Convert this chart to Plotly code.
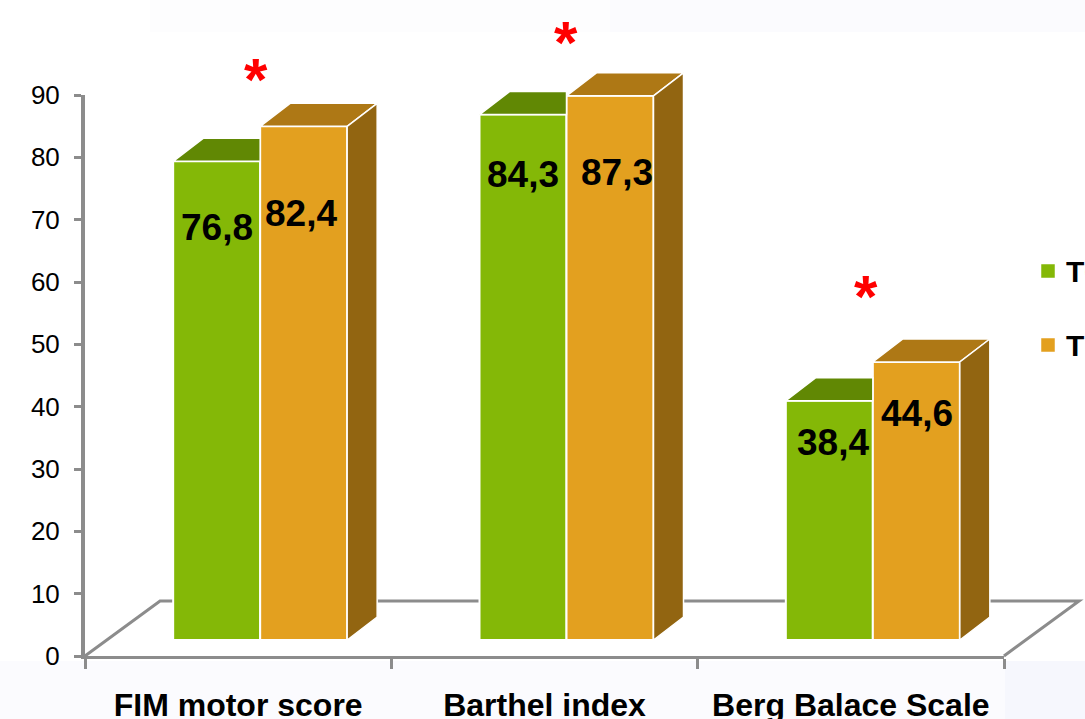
import plotly.graph_objects as go

categories = ["FIM motor score", "Barthel index", "Berg Balace Scale"]
t0_values = [76.8, 84.3, 38.4]
t1_values = [82.4, 87.3, 44.6]
t0_labels = ["76,8", "84,3", "38,4"]
t1_labels = ["82,4", "87,3", "44,6"]
y_ticks = list(range(0, 100, 10))

W, H = 1085, 719
L, R, T, B = 85, 1004, 95, 656
PX_PER_CAT = (R - L) / 3
PX_PER_UNIT = (B - T) / 90


def X(px):
    return (px - L) / PX_PER_CAT - 0.5


def Y(py):
    return (B - py) / PX_PER_UNIT


BASE = 16 / PX_PER_UNIT
DX = 30 / PX_PER_CAT
DY = 23 / PX_PER_UNIT
BAR_W = 87 / PX_PER_CAT
OFF0 = -65 / PX_PER_CAT
OFF1 = OFF0 + BAR_W

GREEN, GREEN_TOP = "#84b807", "#618804"
ORANGE, ORANGE_TOP, ORANGE_SIDE = "#e3a01f", "#ae7815", "#926511"
AXIS = "#8c8c8c"
FONT = "Liberation Sans, Arial, sans-serif"

fig = go.Figure()

fig.add_trace(go.Bar(
    x=[0, 1, 2], y=t0_values, base=BASE, offset=OFF0, width=BAR_W, name="T0",
    marker=dict(color=GREEN, line=dict(color="#ffffff", width=2)), showlegend=False,
))
fig.add_trace(go.Bar(
    x=[0, 1, 2], y=t1_values, base=BASE, offset=OFF1, width=BAR_W, name="T1",
    marker=dict(color=ORANGE, line=dict(color="#ffffff", width=2)), showlegend=False,
))


def poly(xs, ys, color):
    fig.add_trace(go.Scatter(
        x=xs + xs[:1], y=ys + ys[:1], mode="lines", fill="toself", xaxis="x2", yaxis="y2",
        fillcolor=color, line=dict(color="#ffffff", width=1.5),
        showlegend=False, hoverinfo="skip",
    ))


for i, (a, b) in enumerate(zip(t0_values, t1_values)):
    x0, x1, x2 = i + OFF0, i + OFF1, i + OFF1 + BAR_W
    ya, yb = BASE + a, BASE + b
    poly([x0, x1, x1, x0 + DX], [ya, ya, ya + DY, ya + DY], GREEN_TOP)
    poly([x1, x2, x2 + DX, x1 + DX], [yb, yb, yb + DY, yb + DY], ORANGE_TOP)
    poly([x2, x2 + DX, x2 + DX, x2], [BASE, BASE + DY, yb + DY, yb], ORANGE_SIDE)

# legend keys
fig.add_trace(go.Scatter(
    x=[X(1048), X(1048)], y=[Y(271), Y(345)], mode="markers", xaxis="x2", yaxis="y2",
    marker=dict(symbol="square", size=14, color=[GREEN, ORANGE], line=dict(color="#ffffff", width=0.5)),
    showlegend=False, hoverinfo="skip",
))

annotations = []


def text(px, py, s, size, color="#000000", anchor="center"):
    annotations.append(dict(
        x=X(px), y=Y(py), xref="x2", yref="y2", text=s, showarrow=False,
        xanchor=anchor, yanchor="middle",
        font=dict(family=FONT, size=size, color=color, weight="bold"),
    ))


for s, (px, py) in zip(t0_labels, [(217, 227), (523, 174), (833, 442)]):
    text(px, py, s, 37)
for s, (px, py) in zip(t1_labels, [(301, 213), (617, 172), (917, 413)]):
    text(px, py, s, 37)
for px, py in [(256, 79), (566, 42), (866, 296)]:
    text(px, py, "*", 60, "#ff0000")
text(1064, 271, "T0", 30, anchor="left")
text(1064, 345, "T1", 30, anchor="left")


def band(x0, y0, x1, y1, color):
    return dict(type="rect", xref="paper", yref="paper", layer="below",
                x0=x0 / W, x1=x1 / W, y0=1 - y0 / H, y1=1 - y1 / H,
                fillcolor=color, line=dict(width=0))


floor_path = "M {:.4f} {:.4f} L {:.4f} {:.4f} L {:.4f} {:.4f} L {:.4f} {:.4f}".format(
    L / W, 1 - B / H, 160 / W, 1 - 601 / H, 1079 / W, 1 - 601 / H, R / W, 1 - B / H)

shapes = [
    band(150, 0, 1085, 32, "#fdfdfe"),
    band(610, 0, 1085, 32, "#fbfbfe"),
    band(0, 661, 1005, 719, "#fbfbfe"),
    band(1005, 661, 1085, 719, "#f6f7fd"),
    dict(type="path", xref="paper", yref="paper", layer="below", path=floor_path,
         line=dict(color=AXIS, width=3)),
]

fig.update_layout(
    width=W, height=H, margin=dict(l=0, r=0, t=0, b=0),
    paper_bgcolor="#ffffff", plot_bgcolor="rgba(0,0,0,0)",
    barmode="overlay", showlegend=False,
    annotations=annotations, shapes=shapes,
    xaxis=dict(
        domain=[L / W, R / W], anchor="y", automargin=False,
        range=[-0.5, 2.5], tickmode="array", tickvals=[0, 1, 2], ticktext=categories,
        ticks="", ticklabelstandoff=19,
        tickfont=dict(family=FONT, size=32, color="#000000", weight="bold"),
        showgrid=False, zeroline=False, showline=True, linecolor=AXIS, linewidth=3,
        minor=dict(tickmode="array", tickvals=[-0.5, 0.5, 1.5, 2.5], ticks="outside",
                   ticklen=10, tickwidth=3, tickcolor=AXIS, showgrid=False),
    ),
    yaxis=dict(
        domain=[1 - B / H, 1 - T / H], anchor="x", automargin=False,
        range=[0, 90], tickmode="array", tickvals=y_ticks, ticks="outside",
        ticklen=7, tickwidth=3, tickcolor=AXIS, ticklabelstandoff=9,
        tickfont=dict(family=FONT, size=26, color="#000000"),
        showgrid=False, zeroline=False, showline=True, linecolor=AXIS, linewidth=4,
    ),
    xaxis2=dict(domain=[0, 1], anchor="y2", range=[X(0), X(W)], visible=False),
    yaxis2=dict(domain=[0, 1], anchor="x2", range=[Y(H), Y(0)], visible=False),
)

fig.write_html("out.html", config=dict(displayModeBar=False),
               post_script="document.body.style.margin='0';document.body.style.overflow='hidden';")
